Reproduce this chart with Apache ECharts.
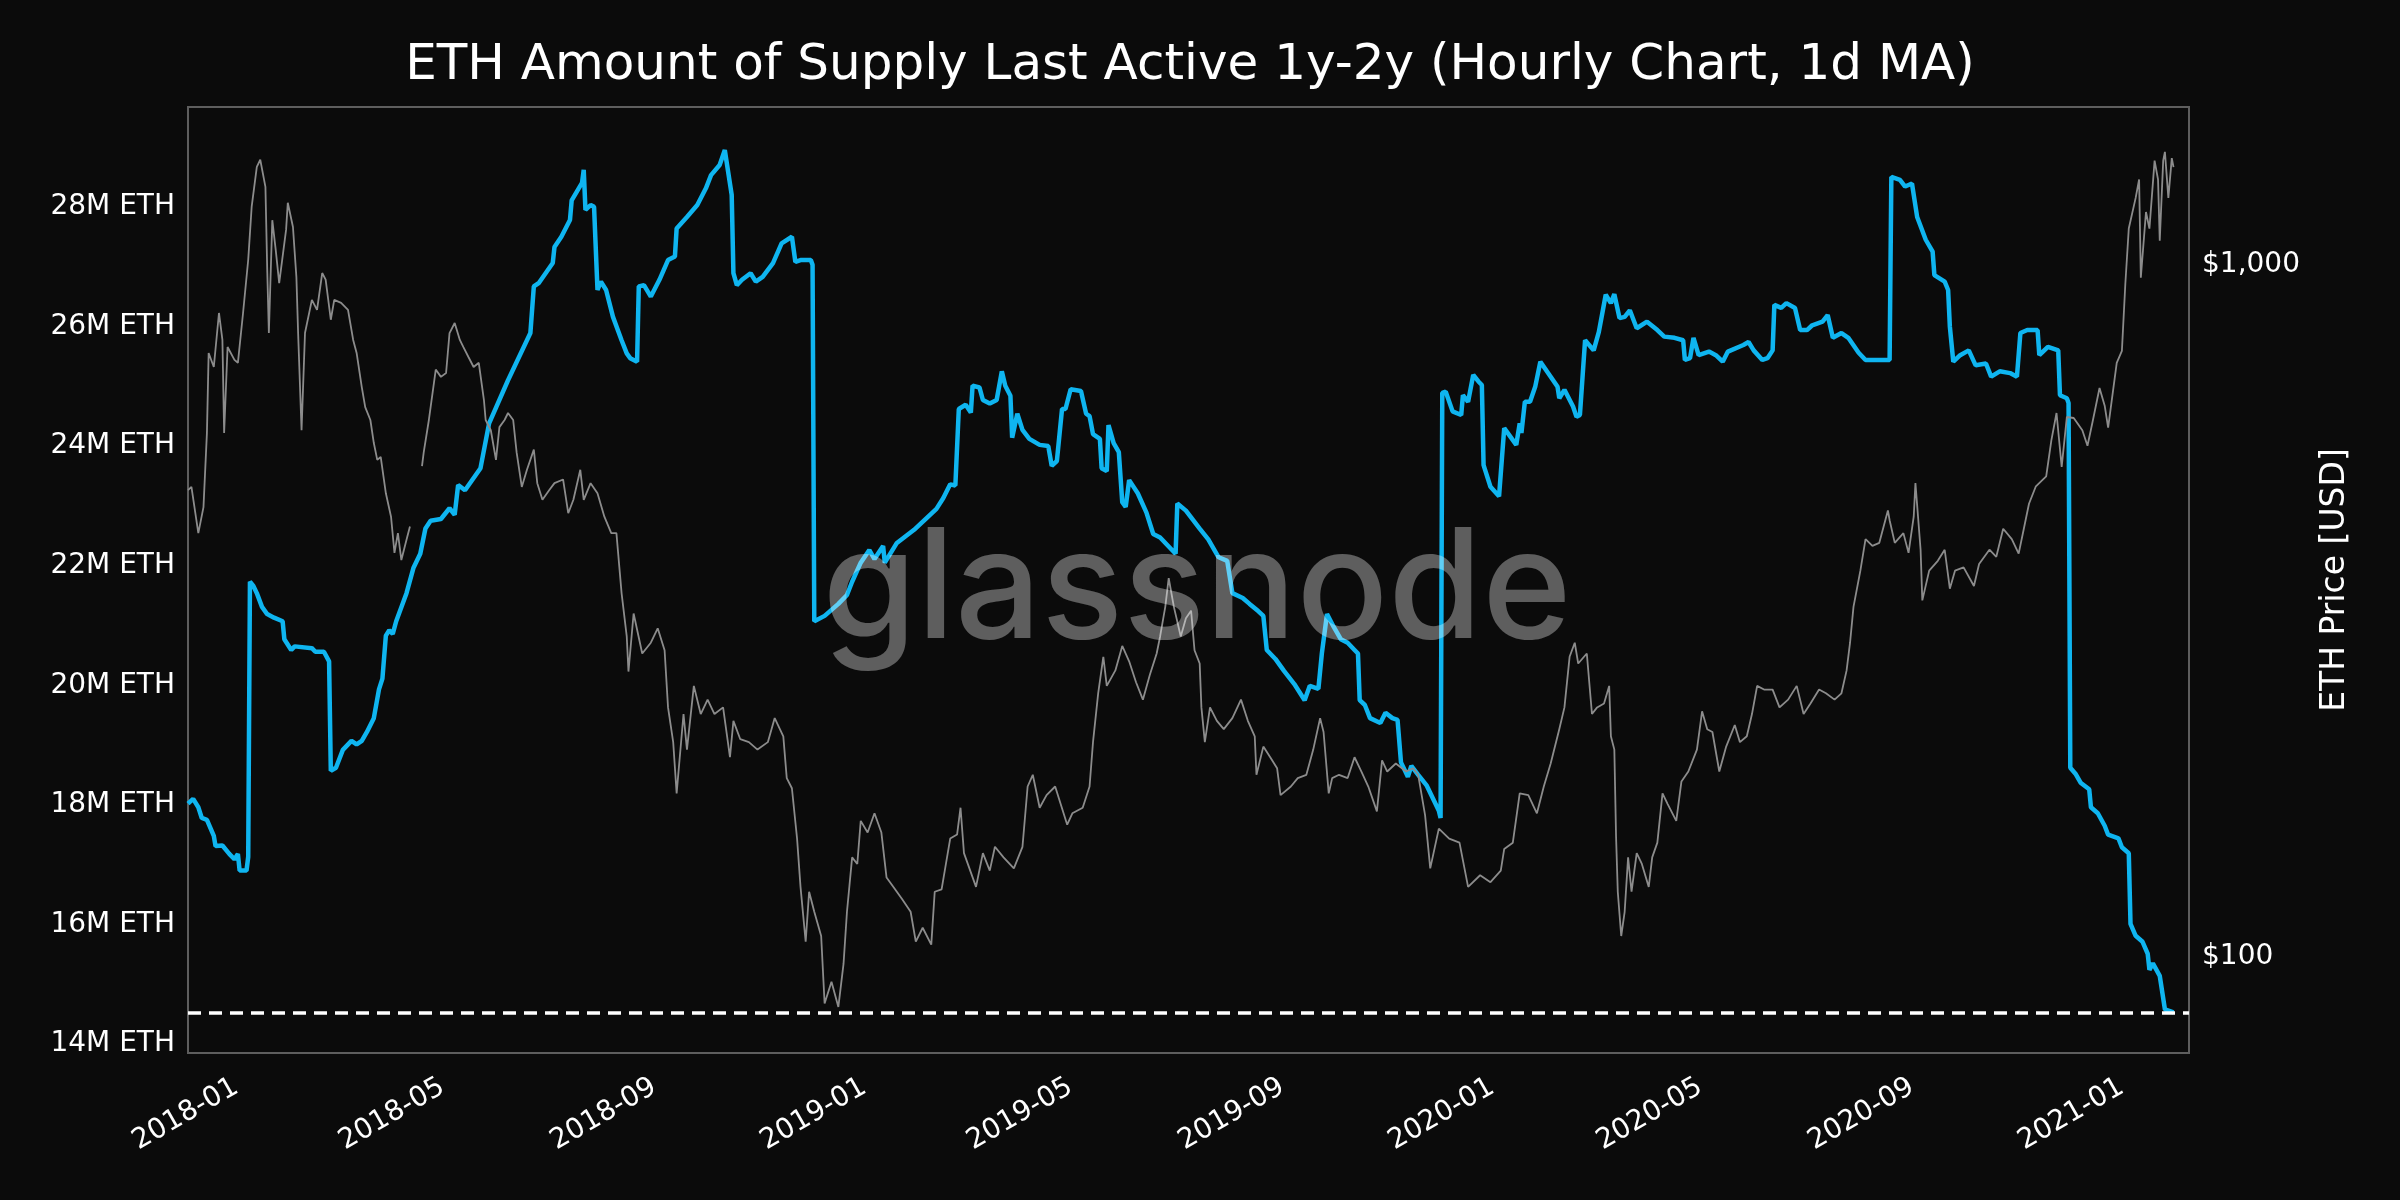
<!DOCTYPE html>
<html>
<head>
<meta charset="utf-8">
<script src="https://cdn.jsdelivr.net/npm/echarts@6/dist/echarts.min.js"></script>
<style>
html,body{margin:0;padding:0;background:#0b0b0b;}
#chart{width:2400px;height:1200px;}
</style>
</head>
<body>
<div id="chart"></div>
<script>
// ---------------- DATA ----------------
const chartTitle = 'ETH Amount of Supply Last Active 1y-2y (Hourly Chart, 1d MA)';
const rightAxisName = 'ETH Price [USD]';
const watermarkText = 'glassnode';

const xTickDates = ['2018-01-01','2018-05-01','2018-09-01','2019-01-01','2019-05-01','2019-09-01','2020-01-01','2020-05-01','2020-09-01','2021-01-01'];
const leftTickValues = [14, 16, 18, 20, 22, 24, 26, 28];          // M ETH
const rightTickValues = [100, 1000];                               // USD
const rightTickLabels = ['$100', '$1,000'];

// Supply last active 1y-2y (millions of ETH)
const supplyDates = [
'2017-12-04','2017-12-07','2017-12-10','2017-12-12','2017-12-15','2017-12-19','2017-12-20','2017-12-24','2017-12-28','2017-12-31',
'2018-01-02','2018-01-03','2018-01-07','2018-01-08','2018-01-09','2018-01-11','2018-01-13','2018-01-16','2018-01-19','2018-01-23',
'2018-01-28','2018-01-29','2018-02-02','2018-02-04','2018-02-14','2018-02-16','2018-02-21','2018-02-24','2018-02-25','2018-02-28',
'2018-03-04','2018-03-09','2018-03-12','2018-03-15','2018-03-18','2018-03-22','2018-03-25','2018-03-27','2018-03-29','2018-03-31',
'2018-04-02','2018-04-04','2018-04-10','2018-04-14','2018-04-18','2018-04-21','2018-04-24','2018-04-30','2018-05-05','2018-05-08',
'2018-05-10','2018-05-14','2018-05-23','2018-05-28','2018-06-08','2018-06-21','2018-06-23','2018-06-26','2018-07-04','2018-07-05',
'2018-07-09','2018-07-14','2018-07-15','2018-07-21','2018-07-22','2018-07-23','2018-07-26','2018-07-28','2018-07-30','2018-08-01',
'2018-08-04','2018-08-08','2018-08-13','2018-08-16','2018-08-18','2018-08-22','2018-08-23','2018-08-26','2018-08-30','2018-09-04',
'2018-09-09','2018-09-13','2018-09-14','2018-09-20','2018-09-26','2018-10-01','2018-10-04','2018-10-09','2018-10-12','2018-10-16',
'2018-10-17','2018-10-19','2018-10-22','2018-10-27','2018-10-30','2018-11-03','2018-11-09','2018-11-14','2018-11-20','2018-11-22',
'2018-11-25','2018-12-01','2018-12-02','2018-12-03','2018-12-04','2018-12-09','2018-12-17','2018-12-22','2018-12-25','2018-12-30',
'2019-01-04','2019-01-07','2019-01-12','2019-01-13','2019-01-20','2019-01-30','2019-02-12','2019-02-16','2019-02-20','2019-02-23',
'2019-02-25','2019-03-01','2019-03-04','2019-03-05','2019-03-09','2019-03-11','2019-03-15','2019-03-19','2019-03-22','2019-03-24',
'2019-03-27','2019-03-28','2019-03-31','2019-04-03','2019-04-07','2019-04-13','2019-04-18','2019-04-20','2019-04-23','2019-04-26',
'2019-04-28','2019-05-01','2019-05-07','2019-05-10','2019-05-12','2019-05-14','2019-05-18','2019-05-19','2019-05-22','2019-05-23',
'2019-05-26','2019-05-29','2019-05-31','2019-06-02','2019-06-04','2019-06-09','2019-06-14','2019-06-18','2019-06-22','2019-07-01',
'2019-07-02','2019-07-07','2019-07-15','2019-07-20','2019-07-26','2019-07-31','2019-08-03','2019-08-09','2019-08-13','2019-08-18',
'2019-08-21','2019-08-23','2019-08-28','2019-09-02','2019-09-08','2019-09-14','2019-09-17','2019-09-22','2019-09-24','2019-09-27',
'2019-10-01','2019-10-05','2019-10-09','2019-10-13','2019-10-15','2019-10-16','2019-10-19','2019-10-22','2019-10-28','2019-10-31',
'2019-11-04','2019-11-07','2019-11-09','2019-11-13','2019-11-15','2019-11-19','2019-11-24','2019-11-28','2019-12-01','2019-12-02',
'2019-12-03','2019-12-05','2019-12-09','2019-12-14','2019-12-15','2019-12-18','2019-12-21','2019-12-24','2019-12-26','2019-12-27',
'2019-12-31','2020-01-05','2020-01-08','2020-01-15','2020-01-17','2020-01-18','2020-01-20','2020-01-23','2020-01-26','2020-01-29',
'2020-02-04','2020-02-08','2020-02-09','2020-02-12','2020-02-17','2020-02-19','2020-02-21','2020-02-24','2020-02-29','2020-03-03',
'2020-03-07','2020-03-10','2020-03-12','2020-03-15','2020-03-18','2020-03-21','2020-03-25','2020-03-31','2020-04-06','2020-04-10',
'2020-04-16','2020-04-21','2020-04-22','2020-04-25','2020-04-27','2020-04-30','2020-05-06','2020-05-10','2020-05-14','2020-05-17',
'2020-05-26','2020-05-29','2020-06-01','2020-06-06','2020-06-09','2020-06-12','2020-06-13','2020-06-17','2020-06-20','2020-06-25',
'2020-06-26','2020-06-28','2020-07-02','2020-07-05','2020-07-11','2020-07-14','2020-07-17','2020-07-22','2020-07-26','2020-08-01',
'2020-08-05','2020-08-13','2020-08-19','2020-08-20','2020-08-25','2020-08-28','2020-09-01','2020-09-04','2020-09-09','2020-09-13',
'2020-09-14','2020-09-20','2020-09-22','2020-09-23','2020-09-25','2020-09-29','2020-10-04','2020-10-08','2020-10-14','2020-10-17',
'2020-10-22','2020-10-28','2020-11-01','2020-11-03','2020-11-07','2020-11-13','2020-11-14','2020-11-19','2020-11-25','2020-11-26',
'2020-11-30','2020-12-01','2020-12-02','2020-12-05','2020-12-08','2020-12-13','2020-12-14','2020-12-18','2020-12-22','2020-12-24',
'2020-12-30','2021-01-01','2021-01-05','2021-01-06','2021-01-09','2021-01-13','2021-01-16','2021-01-17','2021-01-19','2021-01-23',
'2021-01-26','2021-01-31'
];
const supplyMillions = [
18.02,18.10,17.96,17.78,17.75,17.48,17.31,17.32,17.18,17.09,
17.18,16.90,16.90,17.13,21.73,21.66,21.54,21.31,21.19,21.13,
21.07,20.77,20.59,20.65,20.62,20.56,20.56,20.40,18.57,18.62,
18.92,19.07,19.01,19.07,19.22,19.45,19.93,20.11,20.83,20.92,
20.86,21.07,21.54,21.96,22.20,22.62,22.75,22.78,22.96,22.85,
23.35,23.26,23.63,24.38,25.10,25.89,26.67,26.73,27.06,27.33,
27.50,27.78,28.11,28.40,28.62,27.95,28.03,28.00,26.61,26.75,
26.61,26.16,25.77,25.55,25.47,25.41,26.67,26.69,26.50,26.78,
27.11,27.17,27.64,27.83,28.03,28.31,28.53,28.70,28.95,28.20,
26.89,26.69,26.78,26.89,26.75,26.83,27.06,27.39,27.50,27.08,
27.11,27.11,27.03,21.07,21.04,21.16,21.36,21.51,21.73,22.05,
22.26,22.11,22.33,22.05,22.38,22.60,22.95,23.13,23.36,23.34,
24.62,24.69,24.56,25.01,24.98,24.77,24.71,24.77,25.25,25.01,
24.84,24.14,24.54,24.27,24.12,24.02,24.00,23.67,23.75,24.62,
24.62,24.95,24.92,24.54,24.50,24.20,24.12,23.63,23.58,24.35,
24.05,23.90,23.06,22.98,23.43,23.21,22.89,22.53,22.47,22.20,
23.04,22.92,22.62,22.44,22.14,22.08,21.54,21.46,21.36,21.24,
21.16,20.59,20.44,20.24,20.02,19.75,19.99,19.94,20.53,21.19,
20.97,20.77,20.71,20.59,20.53,19.75,19.67,19.45,19.37,19.54,
19.45,19.42,18.71,18.47,18.65,18.50,18.32,18.08,17.90,17.78,
24.89,24.91,24.58,24.52,24.85,24.74,25.19,25.08,25.02,23.68,
23.32,23.16,24.30,24.02,24.38,24.22,24.74,24.74,24.99,25.41,
25.16,24.99,24.80,24.94,24.66,24.49,24.52,25.77,25.60,25.91,
26.53,26.39,26.54,26.14,26.16,26.27,25.97,26.08,25.94,25.83,
25.81,25.77,25.44,25.47,25.81,25.52,25.58,25.52,25.41,25.58,
25.69,25.74,25.60,25.44,25.47,25.60,26.36,26.31,26.39,26.31,
26.33,25.94,25.94,26.02,26.08,26.19,25.81,25.89,25.81,25.56,
25.44,25.44,25.44,28.50,28.45,28.34,28.39,27.83,27.45,27.25,
26.86,26.75,26.61,26.00,25.41,25.52,25.60,25.35,25.38,25.16,
25.25,25.22,25.16,25.89,25.94,25.94,25.52,25.66,25.60,24.85,
24.80,24.72,18.62,18.52,18.37,18.26,17.96,17.86,17.65,17.50,
17.44,17.29,17.19,16.01,15.81,15.71,15.51,15.24,15.35,15.14,
14.58,14.53
];

// ETH price (USD); null marks the gap in the price record
const priceDates = [
'2017-12-04','2017-12-06','2017-12-10','2017-12-13','2017-12-15','2017-12-16','2017-12-19','2017-12-22','2017-12-24','2017-12-25',
'2017-12-27','2017-12-31','2018-01-02','2018-01-05','2018-01-08','2018-01-10','2018-01-13','2018-01-15','2018-01-18','2018-01-19',
'2018-01-20','2018-01-22','2018-01-24','2018-01-26','2018-01-30','2018-01-31','2018-02-03','2018-02-05','2018-02-06','2018-02-08',
'2018-02-10','2018-02-14','2018-02-17','2018-02-20','2018-02-22','2018-02-25','2018-02-27','2018-03-03','2018-03-07','2018-03-10',
'2018-03-12','2018-03-15','2018-03-17','2018-03-20','2018-03-22','2018-03-24','2018-03-26','2018-03-29','2018-04-01','2018-04-03',
'2018-04-05','2018-04-07','2018-04-10','2018-04-12','2018-04-15','2018-04-19','2018-04-20','2018-04-23','2018-04-27','2018-04-30',
'2018-05-03','2018-05-05','2018-05-08','2018-05-11','2018-05-13','2018-05-16','2018-05-19','2018-05-22','2018-05-25','2018-05-26',
'2018-05-29','2018-06-01','2018-06-03','2018-06-06','2018-06-08','2018-06-11','2018-06-13','2018-06-16','2018-06-19','2018-06-23',
'2018-06-25','2018-06-28','2018-07-02','2018-07-05','2018-07-10','2018-07-13','2018-07-16','2018-07-20','2018-07-22','2018-07-26',
'2018-07-30','2018-08-03','2018-08-07','2018-08-10','2018-08-12','2018-08-13','2018-08-16','2018-08-17','2018-08-20','2018-08-25',
'2018-08-30','2018-09-03','2018-09-07','2018-09-09','2018-09-12','2018-09-14','2018-09-18','2018-09-20','2018-09-24','2018-09-28',
'2018-10-02','2018-10-06','2018-10-11','2018-10-15','2018-10-17','2018-10-21','2018-10-26','2018-10-31','2018-11-06','2018-11-10',
'2018-11-15','2018-11-17','2018-11-20','2018-11-23','2018-11-25','2018-11-28','2018-11-30','2018-12-03','2018-12-07','2018-12-09',
'2018-12-13','2018-12-17','2018-12-20','2018-12-22','2018-12-25','2018-12-28','2018-12-30','2019-01-03','2019-01-07','2019-01-11',
'2019-01-14','2019-01-18','2019-01-23','2019-01-28','2019-01-31','2019-02-04','2019-02-09','2019-02-11','2019-02-15','2019-02-20',
'2019-02-24','2019-02-26','2019-02-28','2019-03-07','2019-03-11','2019-03-15','2019-03-18','2019-03-23','2019-03-29','2019-04-03',
'2019-04-06','2019-04-09','2019-04-13','2019-04-17','2019-04-22','2019-04-29','2019-05-02','2019-05-08','2019-05-12','2019-05-14',
'2019-05-17','2019-05-20','2019-05-22','2019-05-27','2019-05-31','2019-06-04','2019-06-08','2019-06-12','2019-06-16','2019-06-20',
'2019-06-22','2019-06-25','2019-06-27','2019-06-30','2019-07-04','2019-07-07','2019-07-10','2019-07-12','2019-07-15','2019-07-16',
'2019-07-18','2019-07-21','2019-07-25','2019-07-29','2019-08-03','2019-08-08','2019-08-12','2019-08-16','2019-08-17','2019-08-21',
'2019-08-25','2019-08-29','2019-08-31','2019-09-06','2019-09-10','2019-09-15','2019-09-19','2019-09-23','2019-09-25','2019-09-28',
'2019-09-30','2019-10-04','2019-10-09','2019-10-13','2019-10-17','2019-10-21','2019-10-26','2019-10-29','2019-11-01','2019-11-06',
'2019-11-12','2019-11-16','2019-11-19','2019-11-23','2019-11-26','2019-12-01','2019-12-07','2019-12-13','2019-12-18','2019-12-25',
'2019-12-31','2020-01-06','2020-01-08','2020-01-13','2020-01-17','2020-01-22','2020-01-27','2020-01-31','2020-02-04','2020-02-09',
'2020-02-12','2020-02-15','2020-02-18','2020-02-20','2020-02-25','2020-02-28','2020-03-02','2020-03-06','2020-03-09','2020-03-10',
'2020-03-12','2020-03-13','2020-03-14','2020-03-16','2020-03-18','2020-03-20','2020-03-22','2020-03-25','2020-03-28','2020-04-01',
'2020-04-03','2020-04-06','2020-04-09','2020-04-12','2020-04-17','2020-04-20','2020-04-24','2020-04-29','2020-05-02','2020-05-05',
'2020-05-08','2020-05-12','2020-05-16','2020-05-21','2020-05-24','2020-05-28','2020-05-31','2020-06-03','2020-06-07','2020-06-12',
'2020-06-16','2020-06-21','2020-06-26','2020-06-30','2020-07-04','2020-07-09','2020-07-13','2020-07-18','2020-07-22','2020-07-25',
'2020-07-27','2020-07-29','2020-08-02','2020-08-05','2020-08-09','2020-08-13','2020-08-18','2020-08-19','2020-08-22','2020-08-27',
'2020-08-30','2020-09-02','2020-09-03','2020-09-06','2020-09-07','2020-09-11','2020-09-16','2020-09-20','2020-09-23','2020-09-26',
'2020-10-01','2020-10-07','2020-10-10','2020-10-16','2020-10-20','2020-10-24','2020-10-29','2020-11-02','2020-11-05','2020-11-08',
'2020-11-12','2020-11-18','2020-11-21','2020-11-24','2020-11-27','2020-11-30','2020-12-04','2020-12-09','2020-12-12','2020-12-15',
'2020-12-19','2020-12-22','2020-12-24','2020-12-29','2021-01-01','2021-01-03','2021-01-05','2021-01-09','2021-01-11','2021-01-12',
'2021-01-15','2021-01-17','2021-01-20','2021-01-22','2021-01-23','2021-01-25','2021-01-26','2021-01-28','2021-01-30','2021-01-31'
];
const priceUsd = [
472,477,409,446,571,745,711,851,778,571,
760,728,721,851,1016,1211,1384,1417,1295,993,
796,1159,1049,940,1122,1228,1133,959,796,576,
796,889,860,972,951,832,889,880,860,778,
745,665,622,596,552,522,527,467,432,383,
409,374,400,418,null,511,535,596,705,688,
697,796,823,778,760,735,711,721,637,596,
576,522,582,596,610,596,535,477,505,540,
483,457,472,483,489,437,457,505,457,483,
467,432,409,409,358,335,290,258,313,274,
284,298,277,229,204,172,224,199,246,224,
235,224,229,194,219,206,204,199,204,221,
208,181,175,148,126,105,124,116,107,85.5,
91.9,84.5,97.5,116,139,136,157,151,161,151,
130,126,121,116,105,110,104,124,125,148,
150,164,141,126,141,133,144,139,134,144,
176,183,164,171,176,155,161,164,176,204,
240,271,246,259,281,267,249,235,255,274,
290,320,352,320,290,308,316,277,265,229,
204,229,219,213,221,235,219,208,183,201,
194,187,171,176,181,183,199,221,211,172,
181,183,181,194,185,176,162,192,185,190,
185,187,183,160,134,153,148,146,126,131,
128,133,143,146,172,171,161,176,190,213,
229,271,284,265,274,224,229,232,246,208,
199,149,124,107,116,139,124,141,136,126,
139,146,172,166,157,179,185,199,226,213,
211,185,201,216,204,208,224,246,243,243,
229,235,246,224,232,243,240,235,240,259,
284,320,361,401,392,396,441,427,396,409,
383,432,483,387,327,361,373,387,340,361,
365,343,369,387,378,415,401,382,415,451,
478,494,557,610,510,602,600,576,547,593,
663,625,581,721,750,938,1127,1248,1327,957,
1191,1127,1413,1327,1082,1413,1455,1248,1425,1383
];

// Axis extents
const xStart = '2017-12-04';
const xEnd = '2021-02-09';
const leftMin = 13.85, leftMax = 29.67;
const rightMin = 72.5, rightMax = 1689;

// ---------------- CHART ----------------
const parse = s => { const [y, m, d] = s.split('-').map(Number); return new Date(y, m - 1, d).getTime(); };
const supplySeries = supplyDates.map((d, i) => [parse(d), supplyMillions[i]]);
const priceSeries = priceDates.map((d, i) => [parse(d), priceUsd[i]]);
const lastSupply = supplyMillions[supplyMillions.length - 1];
const xTickValues = xTickDates.map(parse);

const FONT = 'DejaVu Sans';
const chart = echarts.init(document.getElementById('chart'), null, { renderer: 'canvas', width: 2400, height: 1200 });

const fmtMonth = v => {
  let best = -1, bd = Infinity;
  xTickValues.forEach((t, i) => { const dd = Math.abs(t - v); if (dd < bd) { bd = dd; best = i; } });
  if (bd > 3600e3 * 2) return '';
  return xTickDates[best].slice(0, 7);
};

const option = {
  animation: false,
  backgroundColor: '#0b0b0b',
  grid: {
    left: 188, right: 211, top: 107, bottom: 147,
    show: true, borderColor: '#5e5e5e', borderWidth: 2, backgroundColor: 'transparent'
  },
  xAxis: {
    type: 'value',
    min: parse(xStart), max: parse(xEnd),
    axisLine: { show: false },
    axisTick: { show: false },
    splitLine: { show: false },
    axisLabel: {
      customValues: xTickValues,
      rotate: 30,
      margin: 32,
      color: '#ffffff',
      fontFamily: FONT,
      fontSize: 28,
      formatter: fmtMonth
    }
  },
  yAxis: [
    {
      type: 'value',
      min: leftMin, max: leftMax, splitNumber: 8,
      axisLine: { show: false }, axisTick: { show: false }, splitLine: { show: false },
      axisLabel: {
        color: '#ffffff', fontFamily: FONT, fontSize: 28, margin: 13,
        formatter: v => { const r = Math.round(v); return (Math.abs(v - r) < 1e-6 && leftTickValues.includes(r)) ? r + 'M ETH' : ''; }
      }
    },
    {
      type: 'log', logBase: 10,
      min: rightMin, max: rightMax, position: 'right',
      axisLine: { show: false }, axisTick: { show: false }, splitLine: { show: false }, minorTick: { show: false },
      axisLabel: {
        color: '#ffffff', fontFamily: FONT, fontSize: 28, margin: 13,
        formatter: v => { const i = rightTickValues.findIndex(t => Math.abs(t - v) / t < 1e-6); return i >= 0 ? rightTickLabels[i] : ''; }
      },
      name: rightAxisName, nameLocation: 'middle', nameRotate: 90, nameGap: 130,
      nameTextStyle: { color: '#ffffff', fontFamily: FONT, fontSize: 33 }
    }
  ],
  series: [
    {
      name: 'Supply 1y-2y', type: 'line', yAxisIndex: 0, data: supplySeries,
      showSymbol: false, symbol: 'none', z: 2,
      lineStyle: { color: '#0fb5f0', width: 4.5 },
      markLine: {
        silent: true, symbol: 'none', label: { show: false },
        lineStyle: { color: '#ffffff', type: [13, 8], width: 3.5 },
        data: [{ yAxis: lastSupply }]
      }
    },
    {
      name: 'ETH Price', type: 'line', yAxisIndex: 1, data: priceSeries,
      showSymbol: false, symbol: 'none', connectNulls: false, z: 3,
      lineStyle: { color: '#8c8c8c', width: 1.8 }
    }
  ],
  graphic: [
    {
      type: 'text', x: 1190, y: 66, z: 100,
      style: { text: chartTitle, fill: '#ffffff', font: '50px "DejaVu Sans"', align: 'center', verticalAlign: 'middle' }
    },
    {
      type: 'text', x: 1197, y: 592, z: 100, silent: true,
      style: { text: watermarkText, fill: 'rgba(255,255,255,0.34)', font: '500 152px Inter', align: 'center', verticalAlign: 'middle' }
    }
  ]
};
chart.setOption(option);
</script>
</body>
</html>
